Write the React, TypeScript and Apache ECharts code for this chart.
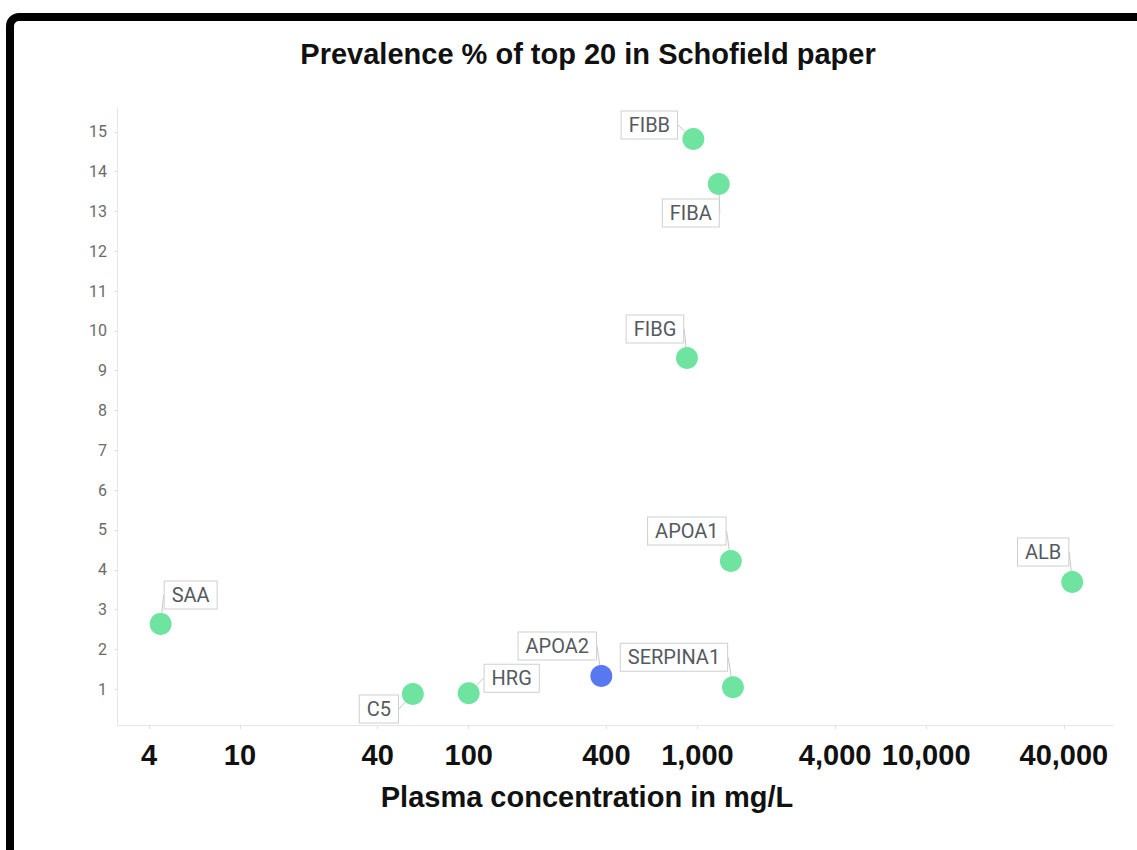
import React, { useEffect, useRef } from 'react';
import * as echarts from 'echarts';

// ---- data ----
const proteins = ['SAA', 'C5', 'HRG', 'APOA2', 'SERPINA1', 'APOA1', 'ALB', 'FIBB', 'FIBA', 'FIBG'];
const concentrations = [4.5, 57, 100, 380, 1430, 1400, 43500, 960, 1240, 900];
const prevalence = [2.64, 0.88, 0.9, 1.33, 1.05, 4.22, 3.69, 14.82, 13.69, 9.32];
const highlighted = ['APOA2'];
const xTicks = [4, 10, 40, 100, 400, 1000, 4000, 10000, 40000];
const yTicks = [1, 2, 3, 4, 5, 6, 7, 8, 9, 10, 11, 12, 13, 14, 15];
const titleText = 'Prevalence % of top 20 in Schofield paper';
const xAxisName = 'Plasma concentration in mg/L';

// ---- layout (label offsets from marker centre, px) ----
const labelOffsets: [number, number][] = [
  [30, -29], [-34, 15], [43, -15], [-44, -30], [-59, -30],
  [-44, -30], [-29, -30], [-44, -14], [-28, 29], [-32, -29],
];

const GREEN = '#6fe3a0';
const BLUE = '#5878f2';

export default function App() {
  const ref = useRef<HTMLDivElement>(null);
  useEffect(() => {
    if (!ref.current) return;
    const chart = echarts.init(ref.current, undefined, { renderer: 'svg' });
    const data = proteins.map((name, i) => ({
      name,
      value: [concentrations[i], prevalence[i]],
      itemStyle: { color: highlighted.includes(name) ? BLUE : GREEN, opacity: 1 },
    }));
    chart.setOption({
      animation: false,
      backgroundColor: '#fff',
      title: {
        text: titleText,
        left: 583,
        top: 34,
        textAlign: 'center',
        textStyle: { fontFamily: 'Liberation Sans', fontWeight: 'bold', fontSize: 29, color: '#111' },
      },
      grid: { left: 117, right: 24, top: 108, bottom: 125, containLabel: false },
      xAxis: {
        type: 'log',
        logBase: 10,
        min: 2.9,
        max: 65600,
        name: xAxisName,
        nameLocation: 'middle',
        nameGap: 57,
        nameTextStyle: {
          fontFamily: 'Liberation Sans',
          fontWeight: 'bold',
          fontSize: 29,
          color: '#111',
          padding: [0, 56, 0, 0],
        },
        axisLine: { show: true, lineStyle: { color: '#e6e6e6', width: 1 } },
        axisTick: { show: true, customValues: xTicks, length: 4, lineStyle: { color: '#e0e0e0' } },
        axisLabel: {
          customValues: xTicks,
          margin: 15,
          fontFamily: 'Liberation Sans',
          fontWeight: 'bold',
          fontSize: 29,
          color: '#111',
          formatter: (v: number) => Math.round(Number(v)).toLocaleString('en-US'),
        },
        splitLine: { show: false },
        minorTick: { show: false },
        minorSplitLine: { show: false },
      },
      yAxis: {
        type: 'value',
        min: 0.1,
        max: 15.6,
        axisLine: { show: true, lineStyle: { color: '#e6e6e6', width: 1 } },
        axisTick: { show: true, customValues: yTicks, length: 3, lineStyle: { color: '#e0e0e0' } },
        axisLabel: {
          customValues: yTicks,
          margin: 10,
          fontFamily: 'Roboto',
          fontSize: 16,
          color: '#6b6b6b',
        },
        splitLine: { show: false },
      },
      series: [
        {
          type: 'scatter',
          data,
          symbol: 'circle',
          symbolSize: 22,
          itemStyle: { opacity: 1 },
          label: {
            show: true,
            position: 'inside',
            formatter: '{b}',
            fontFamily: 'Roboto',
            fontSize: 20,
            color: '#555a60',
            backgroundColor: '#fff',
            borderColor: '#cfcfcf',
            borderWidth: 1,
            padding: [4, 7, 3, 7],
          },
          labelLine: { show: true, smooth: false, lineStyle: { color: '#c8c8c8', width: 1 } },
          labelLayout: (params: any) => ({
            dx: labelOffsets[params.dataIndex][0],
            dy: labelOffsets[params.dataIndex][1],
            hideOverlap: false,
          }),
          emphasis: { disabled: true },
        },
      ],
      graphic: [
        {
          type: 'rect',
          z: 100,
          shape: { x: 10, y: 17, width: 1200, height: 1000, r: 9 },
          style: { fill: 'none', stroke: '#000', lineWidth: 8 },
          silent: true,
        },
      ],
    });
    return () => chart.dispose();
  }, []);
  return <div ref={ref} style={{ position: 'fixed', left: 0, top: 0, width: 1137, height: 850 }} />;
}
